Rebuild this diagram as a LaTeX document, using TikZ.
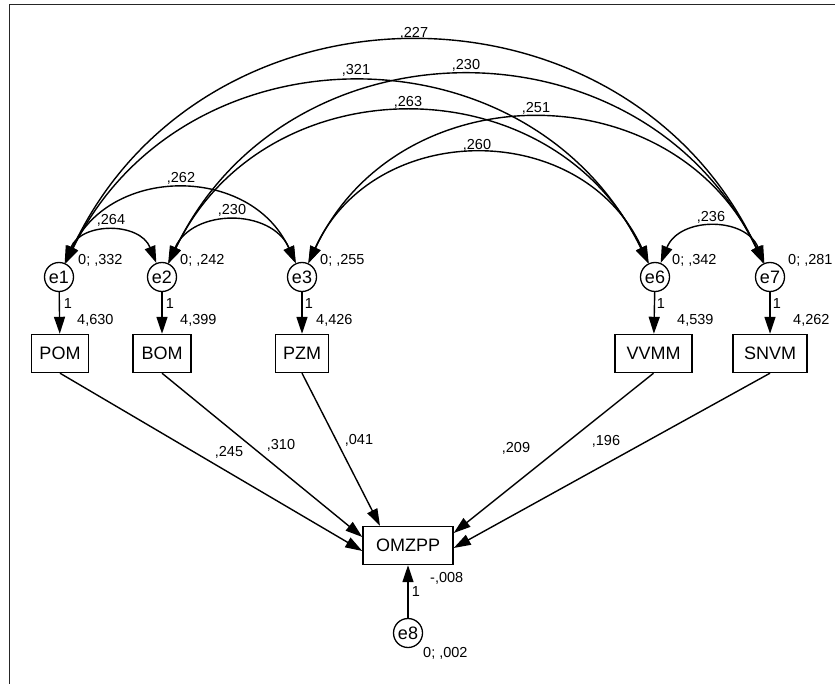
\documentclass[tikz,border=0pt]{standalone}
\usepackage{fontspec}
\setmainfont{Liberation Sans}
\usetikzlibrary{arrows.meta,calc}
\begin{document}
\begin{tikzpicture}[x=1pt,y=1pt,
 lat/.style={circle,draw,line width=1.3pt,minimum size=29pt,inner sep=0pt,font=\fontsize{18}{20}\selectfont},
 obs/.style={rectangle,draw,line width=1.4pt,minimum height=38pt,inner sep=0pt,font=\fontsize{18}{20}\selectfont},
 lbl/.style={inner sep=0pt,font=\fontsize{14.5}{17}\selectfont},
 arr/.style={line width=1.4pt,-{Triangle[length=17pt,width=11pt]}},
 dbl/.style={line width=1.4pt,{Triangle[length=17pt,width=11pt]}-{Triangle[length=17pt,width=11pt]}}]
\useasboundingbox (0,0) rectangle (835,-684);
\draw[line width=1.6pt,black!85] (9.5,-684) -- (9.5,-4.5) -- (835,-4.5);
% latent error terms
\node[lat] (e1) at (59,-277) {e1};
\node[lat] (e2) at (162,-277) {e2};
\node[lat] (e3) at (302,-277) {e3};
\node[lat] (e6) at (655,-277) {e6};
\node[lat] (e7) at (770,-277) {e7};
\node[lat] (e8) at (408,-633) {e8};
% observed
\node[obs,minimum width=57pt] (POM) at (60,-353.5) {POM};
\node[obs,minimum width=58pt] (BOM) at (162,-353.5) {BOM};
\node[obs,minimum width=53pt] (PZM) at (302,-353.5) {PZM};
\node[obs,minimum width=77pt] (VVMM) at (653.5,-353.5) {VVMM};
\node[obs,minimum width=74pt] (SNVM) at (770,-353.5) {SNVM};
\node[obs,minimum width=90pt] (OMZPP) at (408,-545.5) {OMZPP};
% error to indicator
\draw[arr] (e1) -- (POM);
\draw[arr] (e2) -- (BOM);
\draw[arr] (e3) -- (PZM);
\draw[arr] (e6) -- (VVMM);
\draw[arr] (e7) -- (SNVM);
\draw[arr] (e8) -- (OMZPP);
% regressions
\draw[arr] (POM.south) -- ($(OMZPP.west)+(0,-5.5)$);
\draw[arr] (BOM.south) -- ($(OMZPP.west)+(0,8.5)$);
\draw[arr] (PZM.south) -- ($(OMZPP.north)+(-28,0)$);
\draw[arr] (VVMM.south) -- ($(OMZPP.east)+(0,12.5)$);
\draw[arr] (SNVM.south) -- ($(OMZPP.east)+(0,-2.5)$);
% covariances
\draw[dbl] (e1) to[bend left=68,looseness=1.24] (e2);
\draw[dbl] (e1) to[bend left=65.5,looseness=1.2] (e3);
\draw[dbl] (e2) to[bend left=66,looseness=1.21] (e3);
\draw[dbl] (e1) to[bend left=64,looseness=1.18] (e6);
\draw[dbl] (e1) to[bend left=65,looseness=1.195] (e7);
\draw[dbl] (e2) to[bend left=64.5,looseness=1.19] (e6);
\draw[dbl] (e2) to[bend left=64.5,looseness=1.19] (e7);
\draw[dbl] (e3) to[bend left=65.5,looseness=1.2] (e6);
\draw[dbl] (e3) to[bend left=65,looseness=1.195] (e7);
\draw[dbl] (e6) to[bend left=68,looseness=1.24] (e7);
% covariance labels
\node[lbl] (c12) at (111,-220) {,264};
\node[lbl] (c13) at (181,-178) {,262};
\node[lbl] (c23) at (232,-210) {,230};
\node[lbl] (c16) at (356,-70) {,321};
\node[lbl] (c17) at (414,-33) {,227};
\node[lbl] (c26) at (408,-102) {,263};
\node[lbl] (c27) at (466,-65) {,230};
\node[lbl] (c37) at (536,-108) {,251};
\node[lbl] (c36) at (477,-145) {,260};
\node[lbl] (c67) at (711,-217) {,236};
% variances
\node[lbl,anchor=west] (v1) at (78,-260) {0; ,332};
\node[lbl,anchor=west] (v2) at (180,-260) {0; ,242};
\node[lbl,anchor=west] (v3) at (320,-260) {0; ,255};
\node[lbl,anchor=west] (v6) at (672,-260) {0; ,342};
\node[lbl,anchor=west] (v7) at (788,-260) {0; ,281};
\node[lbl,anchor=west] (v8) at (423,-653) {0; ,002};
% loadings 1
\node[lbl] (l1) at (68,-304) {1};
\node[lbl] (l2) at (170,-304) {1};
\node[lbl] (l3) at (309,-304) {1};
\node[lbl] (l6) at (661,-304) {1};
\node[lbl] (l7) at (777,-304) {1};
\node[lbl] (l8) at (416,-592) {1};
% intercepts
\node[lbl,anchor=west] (i1) at (77,-320) {4,630};
\node[lbl,anchor=west] (i2) at (180,-320) {4,399};
\node[lbl,anchor=west] (i3) at (316,-320) {4,426};
\node[lbl,anchor=west] (i6) at (677,-320) {4,539};
\node[lbl,anchor=west] (i7) at (793,-320) {4,262};
\node[lbl,anchor=west] (i8) at (430,-578) {-,008};
% regression weights
\node[lbl] (r1) at (229,-452) {,245};
\node[lbl] (r2) at (281,-445) {,310};
\node[lbl] (r3) at (359,-440) {,041};
\node[lbl] (r6) at (516,-448) {,209};
\node[lbl] (r7) at (606,-441) {,196};
\end{tikzpicture}
\end{document}
